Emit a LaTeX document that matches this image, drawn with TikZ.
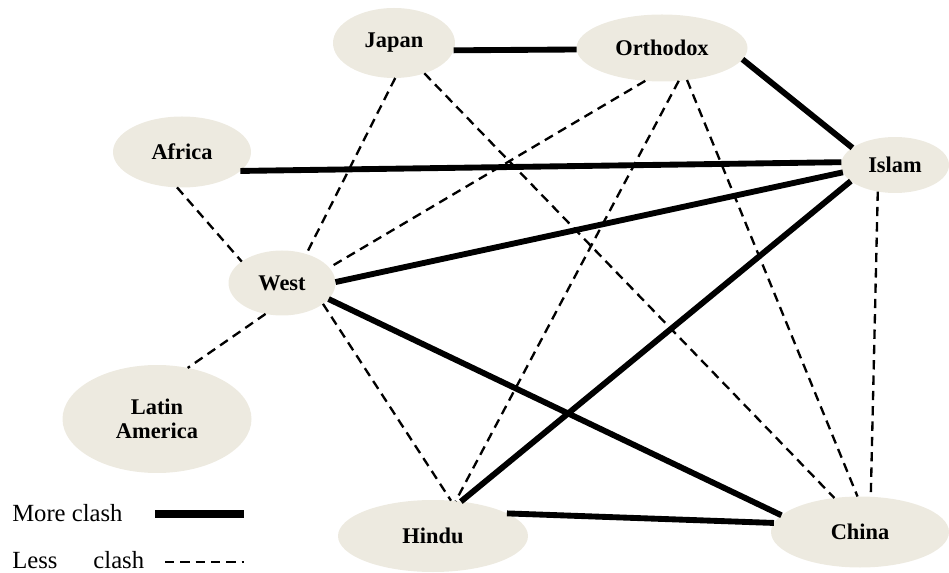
\documentclass[tikz,border=0pt]{standalone}
\usepackage{fontspec}
\setmainfont{Liberation Serif}
\usetikzlibrary{shapes.geometric}
\definecolor{regionfill}{RGB}{237,234,224}
\begin{document}
\begin{tikzpicture}[x=0.75pt, y=-0.75pt,
	region/.style={ellipse, fill=regionfill, inner sep=0pt, outer sep=0pt, align=center, font=\fontsize{16.8}{18.5}\selectfont\bfseries},
	more/.style={black, line width=4.4pt},
	less/.style={black, line width=1.75pt, dash pattern=on 7pt off 4.5pt},
	legendtext/.style={anchor=west, inner sep=0pt, font=\fontsize{18.5}{20}\selectfont}]
	\useasboundingbox (0,0) rectangle (949,573);
	% civilizations
	\node[region, minimum width=91.5pt, minimum height=52.5pt] (japan) at (394,43) {Japan};
	\node[region, minimum width=128.25pt, minimum height=50.25pt] (orthodox) at (662,48) {Orthodox};
	\node[region, minimum width=103.5pt, minimum height=53.25pt] (africa) at (182,152) {Africa};
	\node[region, minimum width=81pt, minimum height=42pt] (islam) at (895,165) {Islam};
	\node[region, minimum width=80.25pt, minimum height=48.75pt] (west) at (282,283) {West};
	\node[region, minimum width=141.75pt, minimum height=81pt] (latin) at (157,419) {Latin\\America};
	\node[region, minimum width=142.5pt, minimum height=54pt] (hindu) at (433,536) {Hindu};
	\node[region, minimum width=133.5pt, minimum height=53.25pt] (china) at (860,532) {China};
	% less clash
	\draw[less] (africa.-98) -- (west.152);
	\draw[less] (west.-118) -- (latin.59);
	\draw[less] (japan.-88) -- (west.50);
	\draw[less] (japan.-45) -- (china.127);
	\draw[less] (orthodox.-117) -- (west.18);
	\draw[less] (orthodox.-63) -- (hindu.57);
	\draw[less] (orthodox.-52) -- (china.94);
	\draw[less] (west.-27) -- (hindu.63);
	\draw[less] (islam.-123) -- (china.73);
	% more clash
	\draw[more] (japan.-7) -- (orthodox.181);
	\draw[more] (orthodox.-8) -- (islam.158);
	\draw[more] (africa.-18) -- (islam.177);
	\draw[more] (west.1) -- (islam.188);
	\draw[more] (west.-19) -- (china.168);
	\draw[more] (hindu.51) -- (islam.200);
	\draw[more] (hindu.17) -- (china.174);
	% legend
	\node[legendtext] (moretext) at (12,513) {More clash};
	\node[legendtext] (lesstext) at (12,560) {Less\hspace{27pt}clash};
	\coordinate (moreA) at (155,514);
	\coordinate (moreB) at (244,514);
	\coordinate (lessA) at (165,562);
	\coordinate (lessB) at (244,562);
	\draw[black, line width=6pt] (moreA) -- (moreB);
	\draw[less, line width=1.9pt] (lessA) -- (lessB);
\end{tikzpicture}
\end{document}
